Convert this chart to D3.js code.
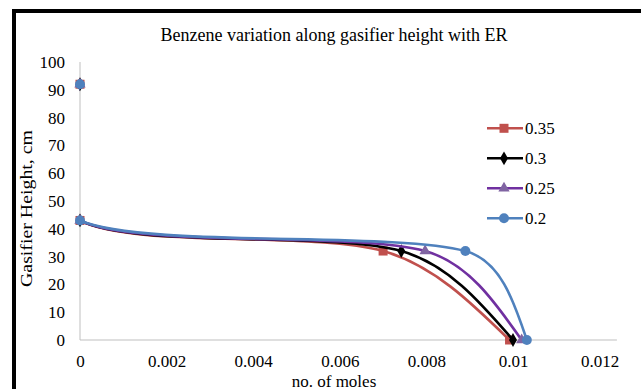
<!DOCTYPE html>
<html><head><meta charset="utf-8">
<script src="https://cdn.jsdelivr.net/npm/d3@7"></script>
<style>body{margin:0;background:#fff}svg{display:block}</style>
</head><body>
<script>
const seriesNames = ["0.35", "0.3", "0.25", "0.2"];
const molesR035 = [0, 0, 0.0070, 0.00992];
const heightR035 = [92, 43, 32, 0];
const molesR030 = [0, 0, 0.00742, 0.01000];
const heightR030 = [92, 43, 32, 0];
const molesR025 = [0, 0, 0.00797, 0.01020];
const heightR025 = [92, 43, 32, 0];
const molesR020 = [0, 0, 0.00890, 0.01032];
const heightR020 = [92, 43, 32, 0];
const xTicks = [0, 0.002, 0.004, 0.006, 0.008, 0.01, 0.012];
const yTicks = [0, 10, 20, 30, 40, 50, 60, 70, 80, 90, 100];

const W = 641, H = 389;
const font = "'Liberation Serif', 'Times New Roman', serif";
const svg = d3.select("body").append("svg").attr("width", W).attr("height", H);
svg.append("rect").attr("width", W).attr("height", H).attr("fill", "#fff");
// frame
svg.append("rect").attr("x", 12).attr("y", 9).attr("width", W - 12).attr("height", 4).attr("fill", "#000");
svg.append("rect").attr("x", 12).attr("y", 9).attr("width", 4).attr("height", H - 9).attr("fill", "#000");

const x = d3.scaleLinear().domain([0, 0.0124]).range([80, 80 + 0.0124 / 0.002 * 86.6]);
const y = d3.scaleLinear().domain([0, 100]).range([340, 62]);

svg.append("text").attr("x", 334).attr("y", 41).attr("text-anchor", "middle")
  .attr("font-family", font).attr("font-size", 18).text("Benzene variation along gasifier height with ER");

// axes lines
svg.append("line").attr("x1", x(0)).attr("x2", x(0)).attr("y1", y(100)).attr("y2", y(0)).attr("stroke", "#bfbfbf");
svg.append("line").attr("x1", x(0)).attr("x2", x(0.0124)).attr("y1", y(0)).attr("y2", y(0)).attr("stroke", "#bfbfbf");

const yAxis = d3.axisLeft(y).tickValues(yTicks).tickSize(0).tickPadding(15).tickFormat(d3.format("d"));
const gy = svg.append("g").attr("transform", `translate(${x(0)},0)`).call(yAxis);
gy.select(".domain").remove();
gy.attr("font-family", font);
gy.selectAll("text").attr("font-family", font).attr("font-size", 17).attr("fill", "#000");

const xAxis = d3.axisBottom(x).tickValues(xTicks).tickSize(0).tickPadding(15).tickFormat(d => d === 0 ? "0" : String(+d.toFixed(3)));
const gx = svg.append("g").attr("transform", `translate(0,${y(0)})`).call(xAxis);
gx.select(".domain").remove();
gx.attr("font-family", font);
gx.selectAll("text").attr("font-family", font).attr("font-size", 17).attr("fill", "#000");

svg.append("text").attr("x", 334).attr("y", 386.5).attr("text-anchor", "middle")
  .attr("font-family", font).attr("font-size", 17).text("no. of moles");
svg.append("text").attr("transform", "translate(32,208.5) rotate(-90)").attr("text-anchor", "middle")
  .attr("font-family", font).attr("font-size", 17).attr("textLength", 157).attr("lengthAdjust", "spacingAndGlyphs")
  .text("Gasifier Height, cm");

svg.append("clipPath").attr("id", "clip").append("rect")
  .attr("x", x(0) - 1).attr("y", 50).attr("width", 560).attr("height", 300);

const series = [
  {name: seriesNames[0], xs: molesR035, ys: heightR035, line: "#C0504D", mark: "#C0504D", shape: "square"},
  {name: seriesNames[1], xs: molesR030, ys: heightR030, line: "#000000", mark: "#000000", shape: "diamond"},
  {name: seriesNames[2], xs: molesR025, ys: heightR025, line: "#7030A0", mark: "#8064A2", shape: "triangle"},
  {name: seriesNames[3], xs: molesR020, ys: heightR020, line: "#4F81BD", mark: "#4F81BD", shape: "circle"}
];
const symType = {square: d3.symbolSquare, diamond: d3.symbolDiamond, triangle: d3.symbolTriangle, circle: d3.symbolCircle};
const symSize = {square: 81, diamond: 55, triangle: 55, circle: 78};

// Excel-like smoothed line: Catmull-Rom tangents capped to 1/3 of segment length, natural ends
function smoothPath(pts) {
  const n = pts.length;
  const tan = pts.map((p, i) => {
    if (i === 0 || i === n - 1) return null;
    return [(pts[i + 1][0] - pts[i - 1][0]) / 6, (pts[i + 1][1] - pts[i - 1][1]) / 6];
  });
  const cap = (v, len) => {
    const l = Math.hypot(v[0], v[1]);
    const m = len / 3;
    return l > m ? [v[0] * m / l, v[1] * m / l] : v;
  };
  const p = d3.path();
  p.moveTo(pts[0][0], pts[0][1]);
  for (let i = 0; i < n - 1; i++) {
    const a = pts[i], b = pts[i + 1];
    const len = Math.hypot(b[0] - a[0], b[1] - a[1]);
    let c1 = null, c2 = null;
    if (tan[i]) { const t = cap(tan[i], len); c1 = [a[0] + t[0], a[1] + t[1]]; }
    if (tan[i + 1]) { const t = cap(tan[i + 1], len); c2 = [b[0] - t[0], b[1] - t[1]]; }
    if (!c1 && c2) c1 = [(a[0] + c2[0]) / 2, (a[1] + c2[1]) / 2];
    if (!c2 && c1) c2 = [(b[0] + c1[0]) / 2, (b[1] + c1[1]) / 2];
    if (!c1 && !c2) { c1 = a; c2 = b; }
    p.bezierCurveTo(c1[0], c1[1], c2[0], c2[1], b[0], b[1]);
  }
  return p.toString();
}

const plot = svg.append("g");
series.forEach(s => {
  const pts = s.xs.map((v, i) => [v, s.ys[i]]);
  const px = pts.map(d => [x(d[0]), y(d[1])]);
  plot.append("path").attr("d", smoothPath(px)).attr("fill", "none").attr("stroke", s.line)
    .attr("stroke-width", 2.6).attr("clip-path", "url(#clip)");
  plot.selectAll(null).data(pts).enter().append("path")
    .attr("transform", d => `translate(${x(d[0])},${y(d[1])})`)
    .attr("d", d3.symbol().type(symType[s.shape]).size(symSize[s.shape])).attr("fill", s.mark);
});

// legend
const lg = svg.append("g");
series.forEach((s, i) => {
  const ly = 128.3 + i * 30;
  lg.append("line").attr("x1", 487).attr("x2", 523).attr("y1", ly).attr("y2", ly).attr("stroke", s.line).attr("stroke-width", 2.6);
  lg.append("path").attr("transform", `translate(504,${ly})`)
    .attr("d", d3.symbol().type(symType[s.shape]).size(symSize[s.shape])).attr("fill", s.mark);
  lg.append("text").attr("x", 525).attr("y", ly + 6).attr("font-family", font).attr("font-size", 17).text(s.name);
});
</script>
</body></html>
